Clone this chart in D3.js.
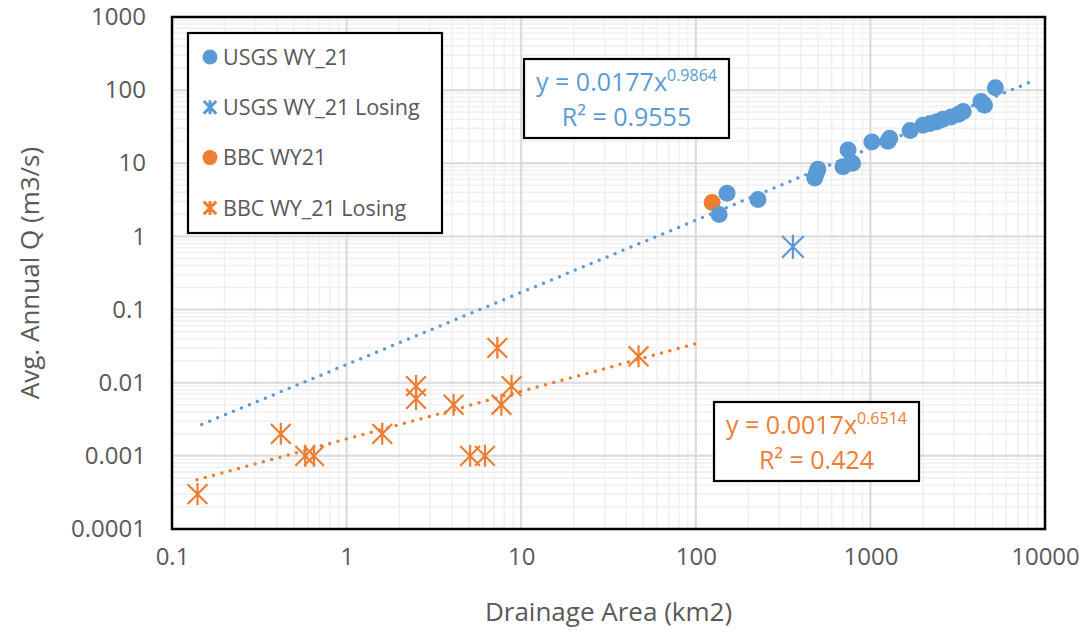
<!DOCTYPE html>
<html>
<head>
<meta charset="utf-8">
<script src="https://cdn.jsdelivr.net/npm/d3@7"></script>
<style>
  body { margin: 0; background: #fff; }
  svg { display: block; font-family: 'Open Sans', 'Liberation Sans', sans-serif; }
</style>
</head>
<body>
<div id="chart"></div>
<script>
// ---- data ----
const usgsArea = [136, 151, 227, 480, 490, 500, 697, 745, 790, 1020, 1260, 1290, 1690, 2000, 2200, 2400, 2600, 2900, 3200, 3400, 4300, 4500, 5200];
const usgsQ    = [2.0, 3.9, 3.2, 6.3, 7.3, 8.3, 9.0, 15.2, 10.0, 19.5, 20.0, 22, 28, 33, 35, 37, 40, 43, 47, 51, 70, 62, 108];

const usgsLosingArea = [360];
const usgsLosingQ    = [0.72];

const bbcArea = [124];
const bbcQ    = [2.9];

const bbcLosingArea = [0.14, 0.42, 0.58, 0.65, 1.6, 2.5, 2.5, 4.1, 5.1, 6.2, 7.3, 7.7, 8.8, 47];
const bbcLosingQ    = [0.0003, 0.002, 0.001, 0.001, 0.002, 0.009, 0.006, 0.005, 0.001, 0.001, 0.03, 0.005, 0.009, 0.023];

// power trendlines: [coef, exponent], drawn between xFrom..xTo
const usgsTrend = [0.0177, 0.9864];
const usgsTrendRange = [0.148, 8500];
const bbcTrend = [0.0017, 0.6514];
const bbcTrendRange = [0.139, 100];

const xDecades = [0.1, 1, 10, 100, 1000, 10000];
const yDecades = [0.0001, 0.001, 0.01, 0.1, 1, 10, 100, 1000];

const legendNames = ['USGS WY_21', 'USGS WY_21 Losing', 'BBC WY21', 'BBC WY_21 Losing'];

const blue = '#5b9bd5';
const orange = '#ed7d31';
const textGray = '#595959';

const width = 1088, height = 632;
const plot = { left: 172, right: 1045, top: 17, bottom: 529 };

const svg = d3.select('#chart').append('svg')
  .attr('width', width)
  .attr('height', height);

const x = d3.scaleLog().domain([0.1, 10000]).range([plot.left, plot.right]);
const y = d3.scaleLog().domain([0.0001, 1000]).range([plot.bottom, plot.top]);

const isMajor = v => Math.abs(Math.log10(v) - Math.round(Math.log10(v))) < 1e-9;

// gridlines (minor first, then major)
const grid = svg.append('g');
const xt = x.ticks(), yt = y.ticks();
[false, true].forEach(major => {
  grid.selectAll(null)
    .data(xt.filter(v => isMajor(v) === major))
    .enter().append('line')
    .attr('x1', d => x(d)).attr('x2', d => x(d))
    .attr('y1', plot.top).attr('y2', plot.bottom)
    .attr('stroke', major ? '#d9d9d9' : '#f0f0f0')
    .attr('stroke-width', major ? 2 : 1.6);
  grid.selectAll(null)
    .data(yt.filter(v => isMajor(v) === major))
    .enter().append('line')
    .attr('y1', d => y(d)).attr('y2', d => y(d))
    .attr('x1', plot.left).attr('x2', plot.right)
    .attr('stroke', major ? '#d9d9d9' : '#f0f0f0')
    .attr('stroke-width', major ? 2 : 1.6);
});

// axes (labels only)
const fmt = d3.format('~g');
const yAxis = svg.append('g')
  .attr('transform', `translate(${plot.left},0)`)
  .call(d3.axisLeft(y).tickValues(yDecades).tickFormat(fmt).tickSize(0).tickPadding(26));
const xAxis = svg.append('g')
  .attr('transform', `translate(0,${plot.bottom})`)
  .call(d3.axisBottom(x).tickValues(xDecades).tickFormat(fmt).tickSize(0).tickPadding(19));
[xAxis, yAxis].forEach(a => {
  a.select('.domain').remove();
  a.selectAll('text')
    .attr('fill', textGray)
    .style('font-family', "'Open Sans', sans-serif")
    .style('font-size', '24px');
});

// axis titles
svg.append('text')
  .attr('x', (plot.left + plot.right) / 2)
  .attr('y', 621)
  .attr('text-anchor', 'middle')
  .attr('fill', textGray)
  .style('font-size', '26px')
  .text('Drainage Area (km2)');

svg.append('text')
  .attr('transform', `translate(39,${(plot.top + plot.bottom) / 2}) rotate(-90)`)
  .attr('text-anchor', 'middle')
  .attr('fill', textGray)
  .style('font-size', '26px')
  .text('Avg. Annual Q (m3/s)');

// trendlines
const line = d3.line().x(d => x(d[0])).y(d => y(d[1]));
function trend(coef, range, color) {
  const pts = range.map(v => [v, coef[0] * Math.pow(v, coef[1])]);
  svg.append('path')
    .attr('d', line(pts))
    .attr('fill', 'none')
    .attr('stroke', color)
    .attr('stroke-width', 3.5)
    .attr('stroke-linecap', 'round')
    .attr('stroke-dasharray', '0 8.6');
}
trend(usgsTrend, usgsTrendRange, blue);
trend(bbcTrend, bbcTrendRange, orange);

// star marker (asterisk: vertical bar + x)
function starPath(s) {
  const a = s * 0.9;
  return `M0,${-s}V${s}M${-a},${-a}L${a},${a}M${-a},${a}L${a},${-a}`;
}

const pairs = (xs, ys) => xs.map((v, i) => [v, ys[i]]);

// BBC circle (under the usgs circles, as in the picture)
svg.append('g').selectAll('circle')
  .data(pairs(bbcArea, bbcQ))
  .enter().append('circle')
  .attr('cx', d => x(d[0])).attr('cy', d => y(d[1]))
  .attr('r', 8.5)
  .attr('fill', orange);

svg.append('g').selectAll('circle')
  .data(pairs(usgsArea, usgsQ))
  .enter().append('circle')
  .attr('cx', d => x(d[0])).attr('cy', d => y(d[1]))
  .attr('r', 8.5)
  .attr('fill', blue);

svg.append('g').selectAll('path')
  .data(pairs(usgsLosingArea, usgsLosingQ))
  .enter().append('path')
  .attr('transform', d => `translate(${x(d[0])},${y(d[1])})`)
  .attr('d', starPath(12))
  .attr('fill', 'none')
  .attr('stroke', blue)
  .attr('stroke-width', 2.2);

svg.append('g').selectAll('path')
  .data(pairs(bbcLosingArea, bbcLosingQ))
  .enter().append('path')
  .attr('transform', d => `translate(${x(d[0])},${y(d[1])})`)
  .attr('d', starPath(11))
  .attr('fill', 'none')
  .attr('stroke', orange)
  .attr('stroke-width', 2.2);

// plot border
svg.append('rect')
  .attr('x', plot.left).attr('y', plot.top)
  .attr('width', plot.right - plot.left)
  .attr('height', plot.bottom - plot.top)
  .attr('fill', 'none')
  .attr('stroke', '#000')
  .attr('stroke-width', 2.5);

// legend
const legend = svg.append('g');
legend.append('rect')
  .attr('x', 188).attr('y', 33)
  .attr('width', 254).attr('height', 200)
  .attr('fill', '#fff')
  .attr('stroke', '#000')
  .attr('stroke-width', 2.2);

const legendMarks = [
  { color: blue, shape: 'circle' },
  { color: blue, shape: 'star' },
  { color: orange, shape: 'circle' },
  { color: orange, shape: 'star' }
];
const items = legend.selectAll('g.item')
  .data(legendNames)
  .enter().append('g')
  .attr('class', 'item')
  .attr('transform', (d, i) => `translate(210,${57 + i * 50.3})`);
items.each(function (d, i) {
  const g = d3.select(this);
  const m = legendMarks[i];
  if (m.shape === 'circle') {
    g.append('circle').attr('r', 7.5).attr('fill', m.color);
  } else {
    g.append('path').attr('d', starPath(7)).attr('fill', 'none')
      .attr('stroke', m.color).attr('stroke-width', 3);
  }
  g.append('text')
    .attr('x', 13)
    .attr('dy', '0.36em')
    .attr('fill', textGray)
    .style('font-size', '21.5px')
    .text(d);
});

// equation boxes
function eqBox(bx, by, coef, r2, color) {
  const g = svg.append('g');
  g.append('rect')
    .attr('x', bx).attr('y', by)
    .attr('width', 205).attr('height', 79)
    .attr('fill', '#fff')
    .attr('stroke', '#000')
    .attr('stroke-width', 2.2);
  const t = g.append('text')
    .attr('x', bx + 102.5).attr('y', by + 32)
    .attr('text-anchor', 'middle')
    .attr('fill', color)
    .style('font-size', '25px');
  t.append('tspan').text(`y = ${coef[0]}x`);
  t.append('tspan').attr('dy', -10).style('font-size', '16px').text(coef[1]);
  g.append('text')
    .attr('x', bx + 102.5).attr('y', by + 67)
    .attr('text-anchor', 'middle')
    .attr('fill', color)
    .style('font-size', '25px')
    .text(`R² = ${r2}`);
}
eqBox(524, 59, usgsTrend, 0.9555, blue);
eqBox(714, 402, bbcTrend, 0.424, orange);
</script>
</body>
</html>
